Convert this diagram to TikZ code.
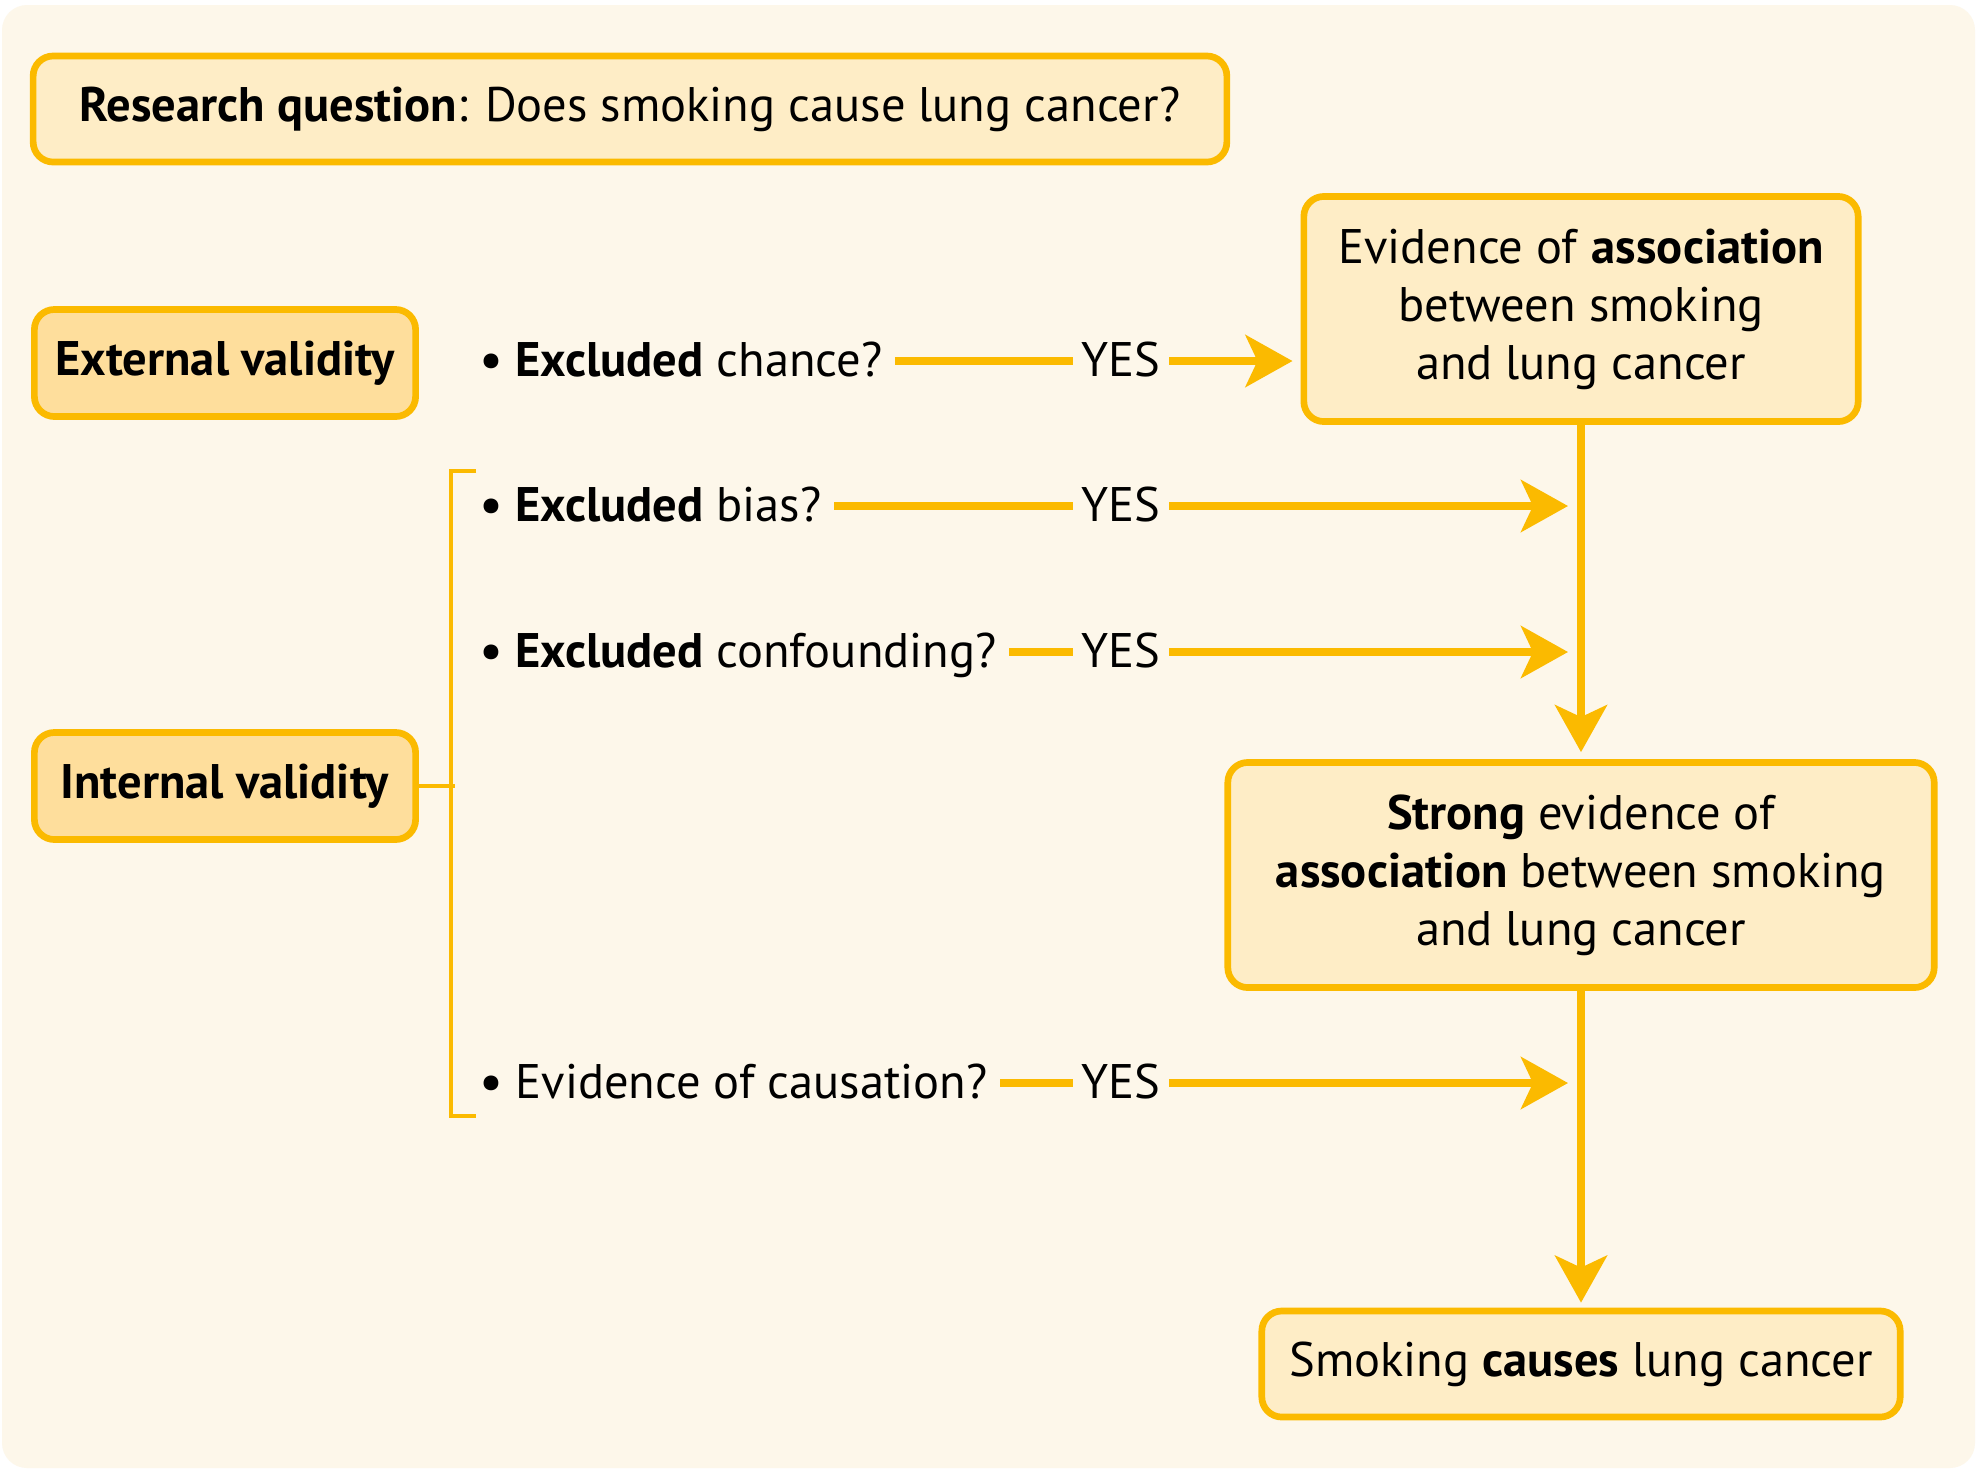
\documentclass[tikz,border=0pt]{standalone}
\usepackage{fontspec}
\setmainfont{PT Sans}
\usetikzlibrary{arrows.meta,positioning,calc}
\definecolor{amber}{HTML}{FBBA00}
\definecolor{paper}{HTML}{FDF7EA}
\definecolor{pale}{HTML}{FEEDC6}
\definecolor{deep}{HTML}{FEDE9C}
\tikzset{
  box/.style={draw=amber, line width=1.9pt, rounded corners=0.2cm, fill=pale, align=center, inner sep=0pt},
  tag/.style={box, fill=deep, minimum width=3.81cm, minimum height=1.07cm},
  ask/.style={anchor=west, inner sep=0.12cm, text height=0.34cm, text depth=0.04cm},
  yes/.style={inner xsep=0.08cm, inner ysep=0pt, text height=0.34cm, text depth=0.04cm},
  flow/.style={draw=amber, line width=2.1pt},
  tip/.style={flow, -{Stealth[length=0.47cm, width=0.52cm, inset=0.12cm]}},
  brace/.style={draw=amber, line width=1.1pt},
}
\newcommand{\bul}{\textbf{\textbullet}\ }

\begin{document}
\begin{tikzpicture}[x=0.01cm, y=-0.01cm, font=\fontsize{13.8}{16.5}\selectfont]
  \useasboundingbox (0,0) rectangle (1979,1472);
  \fill[white] (0,0) rectangle (1979,1472);
  \fill[paper, rounded corners=0.25cm] (2,5) rectangle (1975,1468);
  % left column
  \node[box, minimum width=11.93cm, minimum height=1.06cm] (rq) at (630,109) {\textbf{Research question}: Does smoking cause lung cancer?};
  \node[tag] (ext) at (225,363) {\textbf{External validity}};
  \node[tag] (int) at (225,786) {\textbf{Internal validity}};
  % right column
  \node[box, minimum width=5.54cm, minimum height=2.25cm] (assoc) at (1581,309) {Evidence of \textbf{association}\\between smoking\\and lung cancer};
  \node[box, minimum width=7.06cm, minimum height=2.25cm] (strong) at (1581,875) {\textbf{Strong} evidence of\\\textbf{association} between smoking\\and lung cancer};
  \node[box, minimum width=6.38cm, minimum height=1.06cm] (causes) at (1581,1364) {Smoking \textbf{causes} lung cancer};
  % questions
  \node[ask] (q1) at (468,361) {\bul\textbf{Excluded} chance?};
  \node[ask] (q2) at (468,506) {\bul\textbf{Excluded} bias?};
  \node[ask] (q3) at (468,652) {\bul\textbf{Excluded} confounding?};
  \node[ask] (q4) at (468,1083) {\bul Evidence of causation?};
  \foreach \i/\y in {1/361,2/506,3/652,4/1083}
    \node[yes] (y\i) at (1121,\y) {YES};
  % connectors
  \foreach \i in {1,...,4}
    \draw[flow] (q\i.east) -- (y\i.west);
  \draw[tip, shorten >=0.08cm] (y1.east) -- (y1 -| assoc.west);
  \foreach \i in {2,3,4}
    \draw[tip, shorten >=0.13cm] (y\i.east) -- (y\i -| assoc.south);
  \draw[tip, shorten >=0.07cm] (assoc) -- (strong);
  \draw[tip, shorten >=0.05cm] (strong) -- (causes);
  % bracket
  \coordinate (brtop) at (476,471);
  \coordinate (brbot) at (476,1116);
  \draw[brace] (brtop) -- ++(-25,0) |- (brbot);
  \draw[brace] (int.east) -- ++(36,0);
\end{tikzpicture}
\end{document}
